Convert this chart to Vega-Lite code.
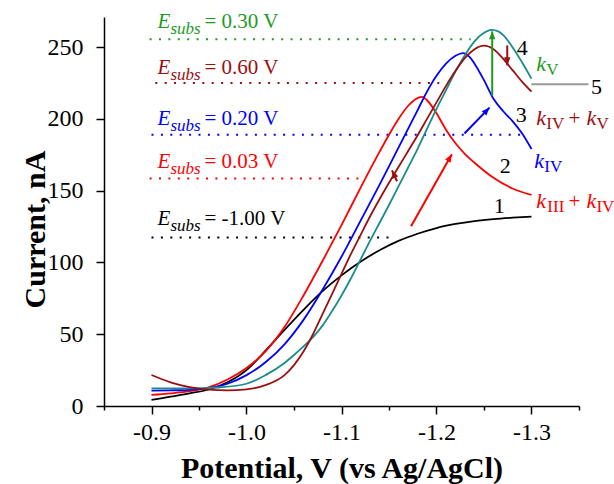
{
  "$schema": "https://vega.github.io/schema/vega-lite/v6.json",
  "width": 475,
  "height": 389,
  "autosize": {"type": "none"},
  "padding": {"left": 104, "top": 17, "right": 35, "bottom": 78},
  "background": "white",
  "config": {
    "view": {"stroke": null},
    "font": "Liberation Serif",
    "axis": {"labelFont": "Liberation Serif", "titleFont": "Liberation Serif", "domainColor": "#000", "tickColor": "#000", "labelColor": "#000", "titleColor": "#000", "grid": false, "domainWidth": 1.5, "tickWidth": 1.5}
  },
  "datasets": {
    "curves": [
      {"s":"1","v":-0.90,"i":4.2},{"s":"1","v":-0.92,"i":6.5},{"s":"1","v":-0.94,"i":8.8},{"s":"1","v":-0.96,"i":11.5},{"s":"1","v":-0.98,"i":16.5},{"s":"1","v":-1.00,"i":25},{"s":"1","v":-1.02,"i":38.5},{"s":"1","v":-1.04,"i":53},{"s":"1","v":-1.06,"i":67},{"s":"1","v":-1.08,"i":80},{"s":"1","v":-1.10,"i":91},{"s":"1","v":-1.12,"i":100.5},{"s":"1","v":-1.14,"i":108.5},{"s":"1","v":-1.16,"i":115},{"s":"1","v":-1.18,"i":120},{"s":"1","v":-1.20,"i":124},{"s":"1","v":-1.22,"i":126.8},{"s":"1","v":-1.24,"i":128.8},{"s":"1","v":-1.26,"i":130.2},{"s":"1","v":-1.28,"i":131.2},{"s":"1","v":-1.30,"i":132},
      {"s":"2","v":-0.90,"i":7.7},{"s":"2","v":-0.92,"i":8.8},{"s":"2","v":-0.94,"i":10.3},{"s":"2","v":-0.96,"i":13},{"s":"2","v":-0.98,"i":18.5},{"s":"2","v":-1.00,"i":26.5},{"s":"2","v":-1.02,"i":38},{"s":"2","v":-1.04,"i":55},{"s":"2","v":-1.06,"i":77},{"s":"2","v":-1.08,"i":101},{"s":"2","v":-1.10,"i":126},{"s":"2","v":-1.12,"i":152},{"s":"2","v":-1.14,"i":177},{"s":"2","v":-1.15,"i":189},{"s":"2","v":-1.16,"i":200},{"s":"2","v":-1.17,"i":209},{"s":"2","v":-1.18,"i":214.5},{"s":"2","v":-1.185,"i":215.3},{"s":"2","v":-1.19,"i":213},{"s":"2","v":-1.20,"i":204},{"s":"2","v":-1.21,"i":192.5},{"s":"2","v":-1.22,"i":183},{"s":"2","v":-1.23,"i":175.5},{"s":"2","v":-1.24,"i":169.5},{"s":"2","v":-1.26,"i":159},{"s":"2","v":-1.28,"i":151.5},{"s":"2","v":-1.30,"i":147},
      {"s":"3","v":-0.90,"i":10.7},{"s":"3","v":-0.92,"i":10.9},{"s":"3","v":-0.94,"i":11.3},{"s":"3","v":-0.96,"i":12.5},{"s":"3","v":-0.98,"i":15.5},{"s":"3","v":-1.00,"i":21.5},{"s":"3","v":-1.02,"i":30.5},{"s":"3","v":-1.04,"i":43},{"s":"3","v":-1.06,"i":60},{"s":"3","v":-1.08,"i":81},{"s":"3","v":-1.10,"i":104},{"s":"3","v":-1.12,"i":129},{"s":"3","v":-1.14,"i":154},{"s":"3","v":-1.16,"i":180},{"s":"3","v":-1.18,"i":206},{"s":"3","v":-1.19,"i":219},{"s":"3","v":-1.20,"i":230},{"s":"3","v":-1.21,"i":238.5},{"s":"3","v":-1.22,"i":244},{"s":"3","v":-1.228,"i":245.8},{"s":"3","v":-1.235,"i":243},{"s":"3","v":-1.24,"i":238.5},{"s":"3","v":-1.25,"i":227},{"s":"3","v":-1.26,"i":214},{"s":"3","v":-1.27,"i":205.5},{"s":"3","v":-1.28,"i":198.5},{"s":"3","v":-1.29,"i":190},{"s":"3","v":-1.30,"i":179},
      {"s":"4","v":-0.90,"i":12.3},{"s":"4","v":-0.94,"i":12.3},{"s":"4","v":-0.97,"i":12.9},{"s":"4","v":-1.00,"i":15.5},{"s":"4","v":-1.02,"i":21.5},{"s":"4","v":-1.04,"i":30},{"s":"4","v":-1.05,"i":35.5},{"s":"4","v":-1.06,"i":41.5},{"s":"4","v":-1.07,"i":48},{"s":"4","v":-1.08,"i":56},{"s":"4","v":-1.09,"i":66},{"s":"4","v":-1.10,"i":77},{"s":"4","v":-1.11,"i":89},{"s":"4","v":-1.12,"i":102},{"s":"4","v":-1.13,"i":115},{"s":"4","v":-1.14,"i":127.5},{"s":"4","v":-1.15,"i":140},{"s":"4","v":-1.16,"i":153},{"s":"4","v":-1.17,"i":166},{"s":"4","v":-1.18,"i":179},{"s":"4","v":-1.19,"i":193},{"s":"4","v":-1.20,"i":207},{"s":"4","v":-1.21,"i":220},{"s":"4","v":-1.22,"i":233},{"s":"4","v":-1.23,"i":244.5},{"s":"4","v":-1.24,"i":254},{"s":"4","v":-1.25,"i":260},{"s":"4","v":-1.258,"i":262},{"s":"4","v":-1.265,"i":261},{"s":"4","v":-1.27,"i":258.5},{"s":"4","v":-1.28,"i":250},{"s":"4","v":-1.29,"i":239.5},{"s":"4","v":-1.30,"i":228},
      {"s":"5","v":-0.90,"i":21.6},{"s":"5","v":-0.92,"i":16.5},{"s":"5","v":-0.94,"i":13.2},{"s":"5","v":-0.96,"i":11.4},{"s":"5","v":-0.98,"i":10.9},{"s":"5","v":-1.00,"i":11.6},{"s":"5","v":-1.02,"i":14.5},{"s":"5","v":-1.04,"i":21.5},{"s":"5","v":-1.05,"i":28.5},{"s":"5","v":-1.06,"i":38},{"s":"5","v":-1.07,"i":50},{"s":"5","v":-1.08,"i":64},{"s":"5","v":-1.09,"i":78},{"s":"5","v":-1.10,"i":92},{"s":"5","v":-1.11,"i":106},{"s":"5","v":-1.12,"i":119},{"s":"5","v":-1.13,"i":132},{"s":"5","v":-1.14,"i":144},{"s":"5","v":-1.15,"i":155.5},{"s":"5","v":-1.16,"i":166.5},{"s":"5","v":-1.17,"i":177.5},{"s":"5","v":-1.18,"i":188.5},{"s":"5","v":-1.19,"i":200},{"s":"5","v":-1.20,"i":211.5},{"s":"5","v":-1.21,"i":223},{"s":"5","v":-1.22,"i":233.5},{"s":"5","v":-1.23,"i":242.5},{"s":"5","v":-1.24,"i":248.5},{"s":"5","v":-1.25,"i":251},{"s":"5","v":-1.26,"i":248.5},{"s":"5","v":-1.27,"i":242},{"s":"5","v":-1.28,"i":234},{"s":"5","v":-1.29,"i":226},{"s":"5","v":-1.30,"i":219}
    ],
    "hlines": [
      {"s":"g","x1":-0.898,"x2":-1.236,"y":255.5},
      {"s":"5","x1":-0.904,"x2":-1.205,"y":225},
      {"s":"3","x1":-0.900,"x2":-1.288,"y":189},
      {"s":"2","x1":-0.898,"x2":-1.123,"y":158.5},
      {"s":"1","x1":-0.900,"x2":-1.157,"y":117.4}
    ],
    "elabels": [
      {"s":"g","x":-0.9063,"y":263.0,"t":"= 0.30 V"},
      {"s":"5","x":-0.9063,"y":231.0,"t":"= 0.60 V"},
      {"s":"3","x":-0.9063,"y":195.5,"t":"= 0.20 V"},
      {"s":"2","x":-0.9063,"y":165.6,"t":"= 0.03 V"},
      {"s":"1","x":-0.9063,"y":126.0,"t":"= -1.00 V"}
    ],
    "klabels": [
      {"s":"g","x":-1.30506,"y":233.1,"t":"k","kind":"k"},
      {"s":"g","x":-1.31561,"y":233.1,"t":"V","kind":"sub"},
      {"s":"5","x":-1.30506,"y":195.5,"t":"k","kind":"k"},
      {"s":"5","x":-1.31561,"y":195.5,"t":"IV","kind":"sub"},
      {"s":"5","x":-1.33882,"y":195.5,"t":"+","kind":"plus"},
      {"s":"5","x":-1.35781,"y":195.5,"t":"k","kind":"k"},
      {"s":"5","x":-1.36835,"y":195.5,"t":"V","kind":"sub"},
      {"s":"3","x":-1.30295,"y":165.6,"t":"k","kind":"k"},
      {"s":"3","x":-1.31350,"y":165.6,"t":"IV","kind":"sub"},
      {"s":"2","x":-1.30506,"y":137.8,"t":"k","kind":"k"},
      {"s":"2","x":-1.31667,"y":137.8,"t":"III","kind":"sub"},
      {"s":"2","x":-1.33882,"y":137.8,"t":"+","kind":"plus"},
      {"s":"2","x":-1.35781,"y":137.8,"t":"k","kind":"k"},
      {"s":"2","x":-1.36835,"y":137.8,"t":"IV","kind":"sub"}
    ],
    "numbers": [
      {"t":"1","x":-1.26603,"y":134.3},
      {"t":"2","x":-1.27236,"y":162.1},
      {"t":"3","x":-1.28924,"y":197.6},
      {"t":"4","x":-1.29030,"y":244.3},
      {"t":"5","x":-1.36835,"y":217.1}
    ],
    "arrows": [
      {"s":"g","x1":-1.25865,"y1":216.4,"x2":-1.25865,"y2":261,"a":0},
      {"s":"5","x1":-1.27447,"y1":251.2,"x2":-1.27447,"y2":237.3,"a":180},
      {"s":"3","x1":-1.22943,"y1":189.8,"x2":-1.2558,"y2":207.9,"a":43},
      {"s":"2","x1":-1.17321,"y1":125.3,"x2":-1.21614,"y2":175.4,"a":29.5},
      {"s":"5","x1":-1.15844,"y1":156.6,"x2":-1.15316,"y2":164.2,"a":335.6}
    ],
    "connector": [
      {"s":"gr","x1":-1.29979,"x2":-1.35992,"y":224.1}
    ]
  },
  "layer": [
    {
      "data": {"name": "hlines"},
      "mark": {"type": "rule", "strokeDash": [2, 7.4], "strokeWidth": 2},
      "encoding": {
        "x": {"field": "x1", "type": "quantitative", "scale": {"domain": [-1.35, -0.85], "reverse": true, "nice": false, "zero": false},
          "axis": {"title": "Potential, V (vs Ag/AgCl)", "values": [-0.85,-0.9,-0.95,-1.0,-1.05,-1.1,-1.15,-1.2,-1.25,-1.3,-1.35],
            "labelExpr": "abs(datum.value*10-round(datum.value*10))>0.01 ? '' : '-' + format(abs(datum.value),'.1f')",
            "tickSize": {"condition": {"test": "abs(datum.value*10-round(datum.value*10))>0.01", "value": 4}, "value": 8},
            "labelFontSize": 24, "labelPadding": 6, "labelFlush": false, "labelOverlap": false,
            "titleFontSize": 30, "titleFontWeight": "bold", "titleY": 71, "titleBaseline": "alphabetic"}},
        "x2": {"field": "x2"},
        "y": {"field": "y", "type": "quantitative", "scale": {"domain": [0, 271], "nice": false, "zero": false},
          "axis": {"title": "Current, nA", "values": [0,25,50,75,100,125,150,175,200,225,250],
            "labelExpr": "datum.value % 50 ? '' : datum.label",
            "tickSize": {"condition": {"test": "datum.value % 50", "value": 5}, "value": 8},
            "labelFontSize": 24, "labelPadding": 13, "labelFlush": false, "labelOverlap": false,
            "titleFontSize": 30, "titleFontWeight": "bold", "titleX": -60, "titleY": 212, "titleAngle": 270, "titleBaseline": "alphabetic", "titleAlign": "center"}},
        "color": {"field": "s", "type": "nominal", "legend": null, "scale": {"domain": ["1","2","3","4","5","g","gr"], "range": ["#000000","#ff0000","#0000ff","#1a8c8c","#9a1010","#1e9b1e","#999999"]}}
      }
    },
    {
      "data": {"name": "curves"},
      "mark": {"type": "line", "strokeWidth": 1.8, "interpolate": "monotone"},
      "encoding": {
        "x": {"field": "v", "type": "quantitative"},
        "y": {"field": "i", "type": "quantitative"},
        "color": {"field": "s", "type": "nominal", "legend": null}
      }
    },
    {
      "data": {"name": "connector"},
      "mark": {"type": "rule", "strokeWidth": 2},
      "encoding": {
        "x": {"field": "x1", "type": "quantitative"},
        "x2": {"field": "x2"},
        "y": {"field": "y", "type": "quantitative"},
        "color": {"field": "s", "type": "nominal", "legend": null}
      }
    },
    {
      "data": {"name": "arrows"},
      "mark": {"type": "rule", "strokeWidth": 2},
      "encoding": {
        "x": {"field": "x1", "type": "quantitative"},
        "x2": {"field": "x2"},
        "y": {"field": "y1", "type": "quantitative"},
        "y2": {"field": "y2"},
        "color": {"field": "s", "type": "nominal", "legend": null}
      }
    },
    {
      "data": {"name": "arrows"},
      "mark": {"type": "point", "filled": true, "opacity": 1, "size": 256, "shape": "M0,0L0.4,1L-0.4,1Z", "strokeWidth": 0},
      "encoding": {
        "x": {"field": "x2", "type": "quantitative"},
        "y": {"field": "y2", "type": "quantitative"},
        "angle": {"field": "a", "type": "quantitative", "scale": null},
        "color": {"field": "s", "type": "nominal", "legend": null}
      }
    },
    {
      "data": {"name": "elabels"},
      "mark": {"type": "text", "text": "E", "fontStyle": "italic", "fontSize": 21, "align": "left", "baseline": "alphabetic", "font": "Liberation Serif"},
      "encoding": {
        "x": {"field": "x", "type": "quantitative"},
        "y": {"field": "y", "type": "quantitative"},
        "color": {"field": "s", "type": "nominal", "legend": null}
      }
    },
    {
      "data": {"name": "elabels"},
      "mark": {"type": "text", "text": "subs", "fontStyle": "italic", "fontSize": 17, "align": "left", "baseline": "alphabetic", "dx": 13, "dy": 6, "font": "Liberation Serif"},
      "encoding": {
        "x": {"field": "x", "type": "quantitative"},
        "y": {"field": "y", "type": "quantitative"},
        "color": {"field": "s", "type": "nominal", "legend": null}
      }
    },
    {
      "data": {"name": "elabels"},
      "mark": {"type": "text", "fontSize": 21, "align": "left", "baseline": "alphabetic", "dx": 47, "font": "Liberation Serif"},
      "encoding": {
        "x": {"field": "x", "type": "quantitative"},
        "y": {"field": "y", "type": "quantitative"},
        "text": {"field": "t"},
        "color": {"field": "s", "type": "nominal", "legend": null}
      }
    },
    {
      "data": {"name": "klabels"},
      "transform": [{"filter": "datum.kind === 'k'"}],
      "mark": {"type": "text", "fontStyle": "italic", "fontSize": 22, "align": "left", "baseline": "alphabetic", "font": "Liberation Serif"},
      "encoding": {
        "x": {"field": "x", "type": "quantitative"},
        "y": {"field": "y", "type": "quantitative"},
        "text": {"field": "t"},
        "color": {"field": "s", "type": "nominal", "legend": null}
      }
    },
    {
      "data": {"name": "klabels"},
      "transform": [{"filter": "datum.kind === 'sub'"}],
      "mark": {"type": "text", "fontSize": 17, "align": "left", "baseline": "alphabetic", "dy": 4, "font": "Liberation Serif"},
      "encoding": {
        "x": {"field": "x", "type": "quantitative"},
        "y": {"field": "y", "type": "quantitative"},
        "text": {"field": "t"},
        "color": {"field": "s", "type": "nominal", "legend": null}
      }
    },
    {
      "data": {"name": "klabels"},
      "transform": [{"filter": "datum.kind === 'plus'"}],
      "mark": {"type": "text", "fontSize": 21, "align": "left", "baseline": "alphabetic", "font": "Liberation Serif"},
      "encoding": {
        "x": {"field": "x", "type": "quantitative"},
        "y": {"field": "y", "type": "quantitative"},
        "text": {"field": "t"},
        "color": {"field": "s", "type": "nominal", "legend": null}
      }
    },
    {
      "data": {"name": "numbers"},
      "mark": {"type": "text", "fontSize": 22, "align": "center", "baseline": "alphabetic", "color": "#000000", "font": "Liberation Serif"},
      "encoding": {
        "x": {"field": "x", "type": "quantitative"},
        "y": {"field": "y", "type": "quantitative"},
        "text": {"field": "t"}
      }
    }
  ]
}
